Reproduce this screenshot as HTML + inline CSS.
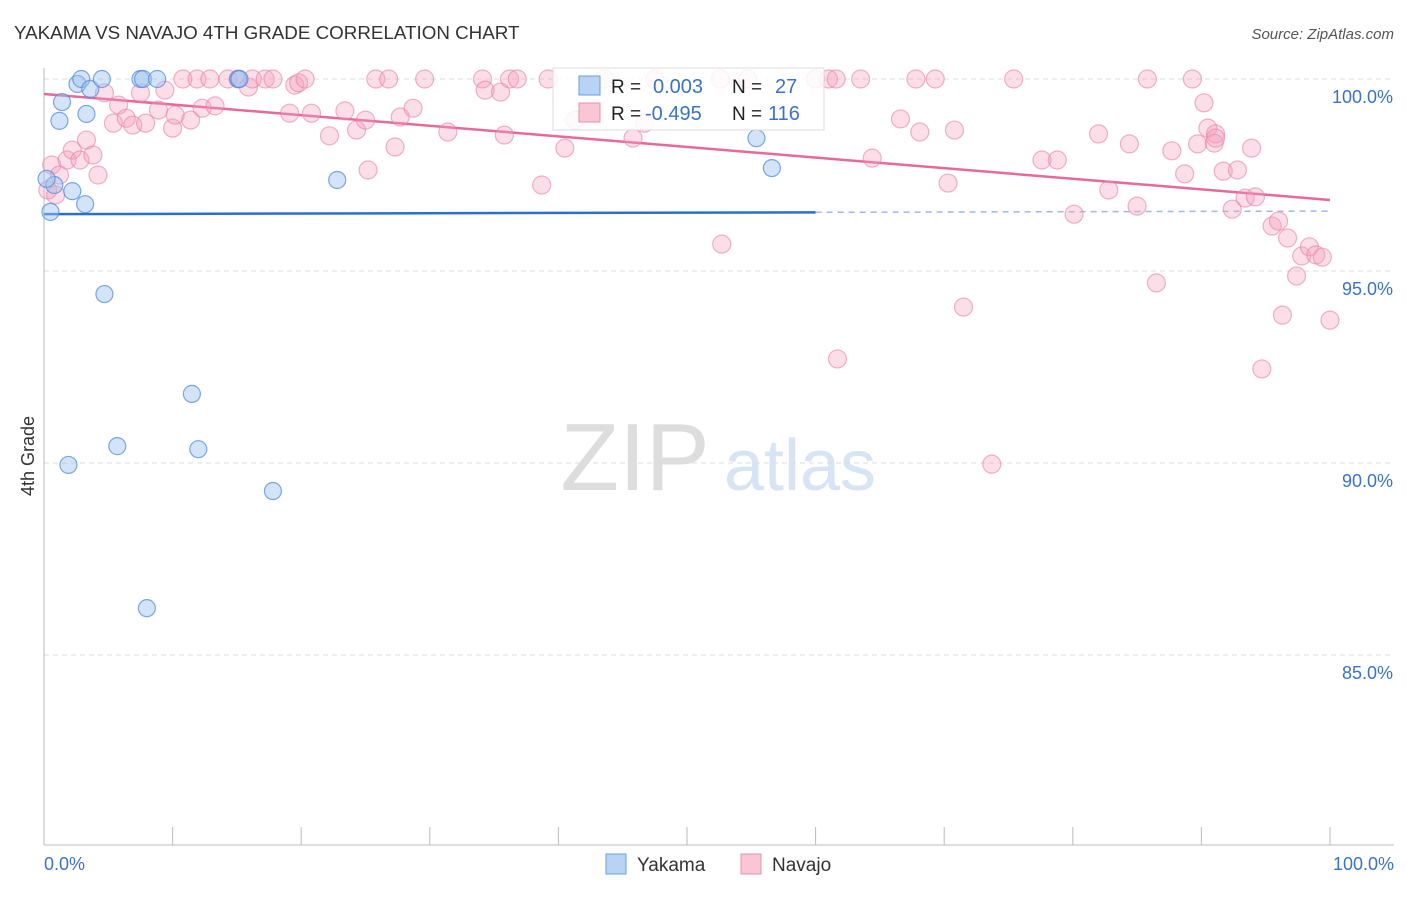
<!DOCTYPE html>
<html><head><meta charset="utf-8"><style>
body{margin:0;background:#fff;font-family:"Liberation Sans",sans-serif}
svg text{font-family:"Liberation Sans",sans-serif}
</style></head><body>
<svg width="1406" height="892" id="chart">
<text x="14" y="39" font-size="18.8" fill="#333">YAKAMA VS NAVAJO 4TH GRADE CORRELATION CHART</text>
<text x="1394" y="39" font-size="15" fill="#555" font-style="italic" text-anchor="end">Source: ZipAtlas.com</text>
<text x="34" y="456" font-size="18" fill="#333" transform="rotate(-90 34 456)" text-anchor="middle">4th Grade</text>
<g><text x="635" y="490" font-size="96" fill="#ddd" font-family="Liberation Serif" text-anchor="middle">ZIP</text><text x="800" y="490" font-size="72" fill="#d6e4f5" text-anchor="middle">atlas</text></g>
<g id="grid"></g><g id="axes"></g><g id="trend"></g><g id="pts"></g>
<g>
<rect x="553" y="68" width="271" height="62" fill="#fff" fill-opacity="0.85" stroke="#ddd"/>
<rect x="579" y="76" width="21" height="19" fill="#b9d3f5" stroke="#6a9ee0"/>
<rect x="579" y="103" width="21" height="19" fill="#f8c6d4" stroke="#e890ad"/>
<text x="611" y="93" font-size="19" fill="#222">R =</text><text x="653" y="93" font-size="20" fill="#3a72c8">0.003</text>
<text x="732" y="93" font-size="19" fill="#222">N =</text><text x="775" y="93" font-size="20" fill="#3a72c8">27</text>
<text x="611" y="120" font-size="19" fill="#222">R =</text><text x="645" y="120" font-size="20" fill="#3a72c8">-0.495</text>
<text x="732" y="120" font-size="19" fill="#222">N =</text><text x="768" y="120" font-size="20" fill="#3a72c8">116</text>
</g>
<g>
<rect x="606" y="854" width="20" height="20" fill="#b9d3f5" stroke="#6a9ee0"/>
<text x="637" y="871" font-size="19" fill="#333">Yakama</text>
<rect x="741" y="854" width="20" height="20" fill="#f8c6d4" stroke="#e890ad"/>
<text x="772" y="871" font-size="19" fill="#333">Navajo</text>
</g>
</svg>
<script>
const xTickVals=[0,10,20,30,40,50,60,70,80,90,100];
const yTickVals=[100,95,90,85];
const yTickLabels=["100.0%","95.0%","90.0%","85.0%"];
const xEndLabels=["0.0%","100.0%"];
const yakamaX=[0.5,0.8,1.2,1.4,1.9,2.2,2.6,2.9,3.3,3.2,3.6,4.5,4.7,5.7,7.5,7.7,8.0,8.8,11.5,12.0,15.1,17.8,22.8,55.4,56.6,0.2,15.2];
const yakamaY=[96.54,97.24,98.91,99.40,89.95,97.08,99.87,100,99.09,96.74,99.74,100,94.40,90.44,100,100,86.22,100,91.80,90.36,100,89.27,97.37,98.46,97.68,97.4,100];
const navajoX=[0.3,0.6,0.9,1.2,1.8,2.2,2.8,3.3,3.8,4.2,4.7,5.4,5.8,6.4,6.9,7.5,7.9,8.9,9.4,10.0,10.2,10.8,11.4,11.9,12.3,12.9,13.3,14.3,15.1,15.9,16.2,17.2,17.8,19.1,19.5,19.8,20.3,20.8,22.2,23.4,24.3,25.0,25.2,25.8,26.8,27.3,27.7,28.7,29.6,31.4,34.1,34.3,35.5,35.8,36.2,36.8,38.7,39.2,40.5,41.3,43.6,45.8,46.7,47.5,52.7,52.6,54.7,60.0,61.0,61.6,61.7,63.5,64.4,66.6,67.8,68.1,69.3,70.3,70.8,71.5,73.7,75.4,77.6,78.8,80.1,82.0,82.8,84.4,85.0,85.8,86.5,87.7,88.7,89.3,89.7,90.2,90.5,91.0,91.1,91.7,92.4,92.8,93.4,93.9,94.2,94.7,95.5,96.0,96.3,96.7,97.4,97.8,98.4,98.9,99.4,100,91.1];
const navajoY=[97.11,97.76,96.98,97.50,97.89,98.15,97.89,98.41,98.02,97.50,99.64,98.85,99.32,98.98,98.80,99.64,98.85,99.19,99.71,98.72,99.06,100,98.93,100,99.24,100,99.30,100,100,99.79,100,100,100,99.11,99.84,99.90,100,99.11,98.52,99.17,98.67,98.93,97.63,100,100,98.23,99.01,99.24,100,98.62,100,99.71,99.66,98.54,100,100,97.24,100,98.20,98.93,100,98.46,98.85,100,95.70,100,100,100,100,100,92.71,100,97.94,98.96,100,98.62,100,97.29,98.67,94.06,89.97,100,97.89,97.89,96.48,98.57,97.11,98.31,96.69,100,94.69,98.13,97.53,100,98.31,99.38,98.72,98.33,98.57,97.60,96.61,97.63,96.90,98.20,96.93,92.45,96.17,96.30,93.85,95.86,94.87,95.39,95.63,95.42,95.36,93.72,98.46];
const yakamaTrend=[96.48,96.56];
const navajoTrend=[99.61,96.85];

const X=v=>44+v*12.86, Y=v=>79+(100-v)*38.4;
const NS="http://www.w3.org/2000/svg";
function mk(t,a,p){const e=document.createElementNS(NS,t);for(const k in a)e.setAttribute(k,a[k]);p.appendChild(e);return e;}
const grid=document.getElementById('grid'),axes=document.getElementById('axes'),trend=document.getElementById('trend'),pts=document.getElementById('pts');
yTickVals.forEach((v,i)=>{
 const l=mk('line',{x1:44,x2:1394,y1:Y(v),y2:Y(v),stroke:'#ddd','stroke-dasharray':'5,4'},grid);
 
 
 const t=mk('text',{x:1393,y:Y(v)+24,'font-size':18,fill:'#3a72c8','text-anchor':'end'},axes);t.textContent=yTickLabels[i];
 
 
});
const ya=mk('line',{x1:44,x2:44,y1:68,y2:845,stroke:'#bbb'},axes);


const xa=mk('line',{x1:44,x2:1394,y1:845,y2:845,stroke:'#bbb'},axes);


xTickVals.forEach(v=>{const t=mk('line',{x1:X(v),x2:X(v),y1:827,y2:845,stroke:'#bbb'},axes);
 
 });
[[0,'start',44],[100,'end',1394]].forEach((d,i)=>{const t=mk('text',{x:d[2],y:870,'font-size':18,fill:'#3a72c8','text-anchor':d[1]},axes);t.textContent=xEndLabels[i];
 
 });
const yt=v=>yakamaTrend[0]+(yakamaTrend[1]-yakamaTrend[0])*v/100;
let e=mk('line',{x1:X(0),x2:X(60),y1:Y(yt(0)),y2:Y(yt(60)),stroke:'#2a6fd0','stroke-width':2.5},trend);


e=mk('line',{x1:X(60),x2:X(100),y1:Y(yt(60)),y2:Y(yt(100)),stroke:'#9bbbe6','stroke-width':1.5,'stroke-dasharray':'6,5'},trend);


e=mk('line',{x1:X(0),x2:X(100),y1:Y(navajoTrend[0]),y2:Y(navajoTrend[1]),stroke:'#e8689a','stroke-width':2.5},trend);


navajoX.forEach((x,i)=>{const c=mk('circle',{cx:X(x),cy:Y(navajoY[i]),r:9,fill:'rgba(244,160,188,0.35)',stroke:'rgba(232,128,165,0.6)','stroke-width':1.2},pts);
 
 });
yakamaX.forEach((x,i)=>{const c=mk('circle',{cx:X(x),cy:Y(yakamaY[i]),r:8.5,fill:'rgba(160,196,240,0.45)',stroke:'rgba(80,140,220,0.75)','stroke-width':1.2},pts);
 
 });
</script>
</body></html>
